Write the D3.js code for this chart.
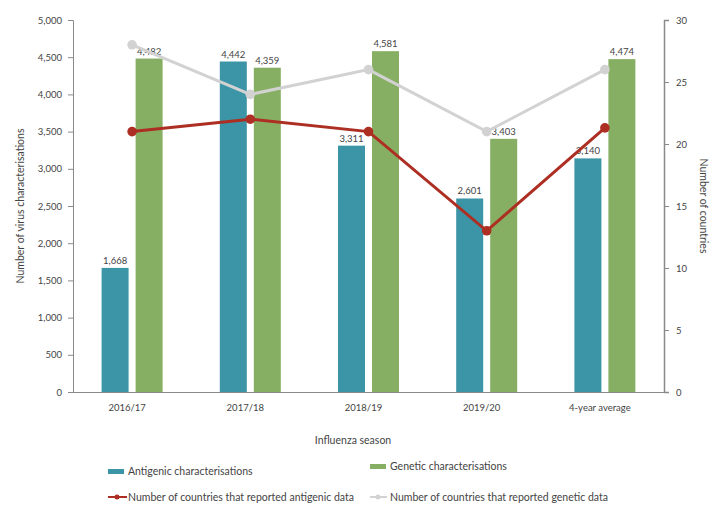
<!DOCTYPE html>
<html><head><meta charset="utf-8">
<script src="https://cdn.jsdelivr.net/npm/d3@7"></script>
<style>
body{margin:0;background:#fff;}
text{font-family:Lato,"Open Sans",sans-serif;}
</style></head><body>
<svg id="c" width="725" height="516"></svg>
<script>
const seasons = ["2016/17","2017/18","2018/19","2019/20","4-year average"];
const antigenic = [1668,4442,3311,2601,3140];
const genetic = [4482,4359,4581,3403,4474];
const countriesAntigenic = [21,22,21,13,21.3];
const countriesGenetic = [28,24,26,21,26];
const leftTicks = [0,500,1000,1500,2000,2500,3000,3500,4000,4500,5000];
const rightTicks = [0,5,10,15,20,25,30];

const svg = d3.select("#c");
const L = 73, R = 664, T = 20, B = 392;
const x = d3.scaleBand().domain(seasons).range([L,R]).padding(0);
const y = d3.scaleLinear().domain([0,5000]).range([B,T]);
const y2 = d3.scaleLinear().domain([0,30]).range([B,T]);
const fmt = d3.format(",");
const teal = "#3b95a6", green = "#87af63", red = "#ad2e22", grey = "#d2d2d2";
const axisCol = "#8a8a8a", txt = "#444";

// left axis
const la = svg.append("g").attr("transform",`translate(${L},0)`)
  .call(d3.axisLeft(y).tickValues(leftTicks).tickFormat(fmt).tickSize(5).tickPadding(6));
la.selectAll("path,line").attr("stroke",axisCol);
la.selectAll("text").attr("fill",txt).style("font-size","9.5px");

// right axis
const ra = svg.append("g").attr("transform",`translate(${R},0)`)
  .call(d3.axisRight(y2).tickValues(rightTicks).tickSize(5).tickPadding(7));
ra.selectAll("path,line").attr("stroke",axisCol);
ra.select("path").attr("stroke-width",1.5);
ra.selectAll("text").attr("fill",txt).style("font-size","9.5px");

// baseline
svg.append("line").attr("x1",L).attr("x2",R).attr("y1",B+0.5).attr("y2",B+0.5).attr("stroke",axisCol);

// x labels
svg.append("g").selectAll("text").data(seasons).join("text")
  .attr("x",d=>x(d)+x.bandwidth()/2-5).attr("y",411).attr("text-anchor","middle")
  .attr("fill",txt).style("font-size","9.5px").text(d=>d);

const bw = 27;
const cx = d=>x(d)+x.bandwidth()/2;
// bars
svg.append("g").selectAll("rect").data(antigenic).join("rect")
  .attr("x",(d,i)=>cx(seasons[i])-bw-3.5).attr("width",bw)
  .attr("y",d=>y(d)).attr("height",d=>B-y(d)).attr("fill",teal);
svg.append("g").selectAll("rect").data(genetic).join("rect")
  .attr("x",(d,i)=>cx(seasons[i])+3.5).attr("width",bw)
  .attr("y",d=>y(d)).attr("height",d=>B-y(d)).attr("fill",green);
// value labels
svg.append("g").selectAll("text").data(antigenic).join("text")
  .attr("x",(d,i)=>cx(seasons[i])-bw/2-3.5).attr("y",d=>y(d)-4).attr("text-anchor","middle")
  .attr("fill",txt).style("font-size","9.5px").text(d=>fmt(d));
svg.append("g").selectAll("text").data(genetic).join("text")
  .attr("x",(d,i)=>cx(seasons[i])+bw/2+3.5).attr("y",d=>y(d)-4).attr("text-anchor","middle")
  .attr("fill",txt).style("font-size","9.5px").text(d=>fmt(d));

// lines
function drawLine(vals,col){
  const line = d3.line().x((d,i)=>cx(seasons[i])).y(d=>y2(d));
  svg.append("path").datum(vals).attr("d",line).attr("fill","none").attr("stroke",col).attr("stroke-width",3);
  svg.append("g").selectAll("circle").data(vals).join("circle")
    .attr("cx",(d,i)=>cx(seasons[i])).attr("cy",d=>y2(d)).attr("r",4.8).attr("fill",col);
}
drawLine(countriesGenetic,grey);
drawLine(countriesAntigenic,red);

// axis titles
svg.append("text").attr("transform",`translate(24,${(T+B)/2}) rotate(-90)`).attr("text-anchor","middle")
  .attr("fill",txt).style("font-size","10.5px").text("Number of virus characterisations");
svg.append("text").attr("transform",`translate(700,${(T+B)/2}) rotate(90)`).attr("text-anchor","middle")
  .attr("fill",txt).style("font-size","10.5px").text("Number of countries");
svg.append("text").attr("x",353).attr("y",444).attr("text-anchor","middle")
  .attr("fill",txt).style("font-size","10.5px").text("Influenza season");

// legend
const lg = svg.append("g");
lg.append("rect").attr("x",108).attr("y",469).attr("width",16).attr("height",5).attr("fill",teal);
lg.append("text").attr("x",128).attr("y",475).attr("fill",txt).style("font-size","10.5px").text("Antigenic characterisations");
lg.append("rect").attr("x",370).attr("y",464).attr("width",16).attr("height",5).attr("fill",green);
lg.append("text").attr("x",390).attr("y",470).attr("fill",txt).style("font-size","10.5px").text("Genetic characterisations");
lg.append("line").attr("x1",108).attr("x2",127).attr("y1",497).attr("y2",497).attr("stroke",red).attr("stroke-width",2);
lg.append("circle").attr("cx",117).attr("cy",497).attr("r",2.5).attr("fill",red);
lg.append("text").attr("x",128).attr("y",501).attr("fill",txt).style("font-size","10.5px").text("Number of countries that reported antigenic data");
lg.append("line").attr("x1",370).attr("x2",387).attr("y1",497).attr("y2",497).attr("stroke",grey).attr("stroke-width",2);
lg.append("circle").attr("cx",378).attr("cy",497).attr("r",2.5).attr("fill",grey);
lg.append("text").attr("x",390).attr("y",501).attr("fill",txt).style("font-size","10.5px").text("Number of countries that reported genetic data");
</script></body></html>
